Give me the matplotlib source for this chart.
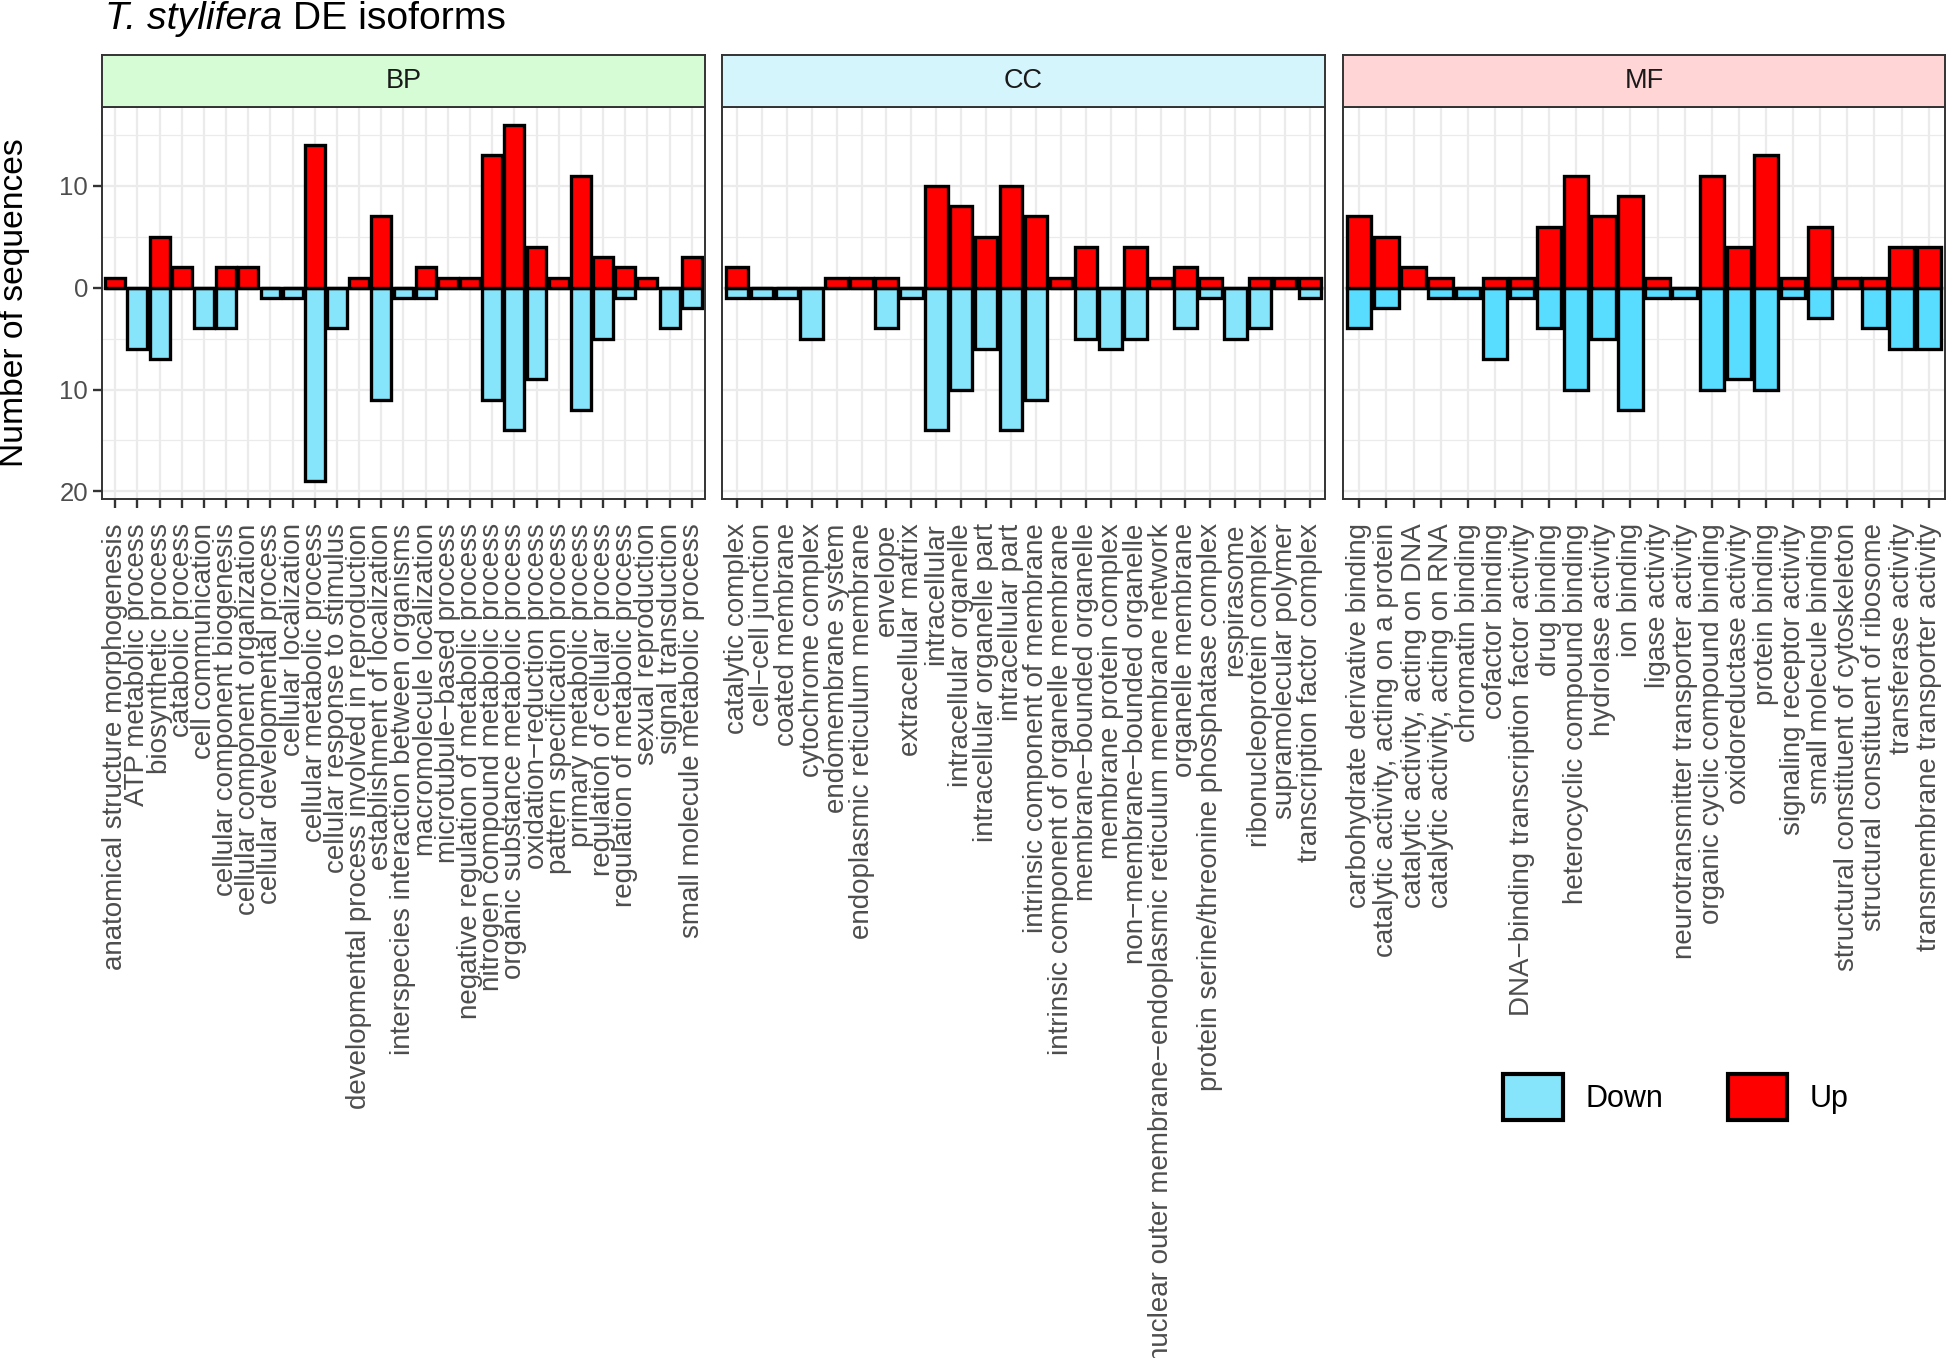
import matplotlib
matplotlib.use("Agg")
import matplotlib.pyplot as plt
from matplotlib.patches import Patch
import numpy as np

plt.rcParams['font.family'] = ['Liberation Sans', 'DejaVu Sans']

# ---------------- data ----------------
bp_categories = ["anatomical structure morphogenesis", "ATP metabolic process", "biosynthetic process",
                 "catabolic process", "cell communication", "cellular component biogenesis",
                 "cellular component organization", "cellular developmental process", "cellular localization",
                 "cellular metabolic process", "cellular response to stimulus",
                 "developmental process involved in reproduction", "establishment of localization",
                 "interspecies interaction between organisms", "macromolecule localization",
                 "microtubule\u2212based process", "negative regulation of metabolic process",
                 "nitrogen compound metabolic process", "organic substance metabolic process",
                 "oxidation\u2212reduction process", "pattern specification process", "primary metabolic process",
                 "regulation of cellular process", "regulation of metabolic process", "sexual reproduction",
                 "signal transduction", "small molecule metabolic process"]
bp_up = [1, 0, 5, 2, 0, 2, 2, 0, 0, 14, 0, 1, 7, 0, 2, 1, 1, 13, 16, 4, 1, 11, 3, 2, 1, 0, 3]
bp_down = [0, 6, 7, 0, 4, 4, 0, 1, 1, 19, 4, 0, 11, 1, 1, 0, 0, 11, 14, 9, 0, 12, 5, 1, 0, 4, 2]

cc_categories = ["catalytic complex", "cell\u2212cell junction", "coated membrane", "cytochrome complex",
                 "endomembrane system", "endoplasmic reticulum membrane", "envelope", "extracellular matrix",
                 "intracellular", "intracellular organelle", "intracellular organelle part", "intracellular part",
                 "intrinsic component of membrane", "intrinsic component of organelle membrane",
                 "membrane\u2212bounded organelle", "membrane protein complex",
                 "non\u2212membrane\u2212bounded organelle",
                 "nuclear outer membrane\u2212endoplasmic reticulum membrane network", "organelle membrane",
                 "protein serine/threonine phosphatase complex", "respirasome", "ribonucleoprotein complex",
                 "supramolecular polymer", "transcription factor complex"]
cc_up = [2, 0, 0, 0, 1, 1, 1, 0, 10, 8, 5, 10, 7, 1, 4, 0, 4, 1, 2, 1, 0, 1, 1, 1]
cc_down = [1, 1, 1, 5, 0, 0, 4, 1, 14, 10, 6, 14, 11, 0, 5, 6, 5, 0, 4, 1, 5, 4, 0, 1]

mf_categories = ["carbohydrate derivative binding", "catalytic activity, acting on a protein",
                 "catalytic activity, acting on DNA", "catalytic activity, acting on RNA", "chromatin binding",
                 "cofactor binding", "DNA\u2212binding transcription factor activity", "drug binding",
                 "heterocyclic compound binding", "hydrolase activity", "ion binding", "ligase activity",
                 "neurotransmitter transporter activity", "organic cyclic compound binding",
                 "oxidoreductase activity", "protein binding", "signaling receptor activity",
                 "small molecule binding", "structural constituent of cytoskeleton",
                 "structural constituent of ribosome", "transferase activity",
                 "transmembrane transporter activity"]
mf_up = [7, 5, 2, 1, 0, 1, 1, 6, 11, 7, 9, 1, 0, 11, 4, 13, 1, 6, 1, 1, 4, 4]
mf_down = [4, 2, 0, 1, 1, 7, 1, 4, 10, 5, 12, 1, 1, 10, 9, 10, 1, 3, 0, 4, 6, 6]

panel_names = ["BP", "CC", "MF"]
y_ticks = [-20, -10, 0, 10]
y_tick_labels = ["20", "10", "0", "10"]

# ---------------- style ----------------
W, H = 1946, 1358
fig = plt.figure(figsize=(W / 100, H / 100), dpi=100)

UP_COLOR = "#FF0000"
DOWN_COLORS = {"BP": "#86E5FA", "CC": "#86E5FA", "MF": "#58DCFF"}
STRIP_COLORS = {"BP": "#D5FCD5", "CC": "#D5F5FC", "MF": "#FFD5D5"}
BORDER = "#333333"
GRID = "#EBEBEB"

panels_px = {"BP": (102, 705), "CC": (722, 1325), "MF": (1343, 1945)}
py0, py1 = 107, 499
sy0 = 55

data = {"BP": (bp_categories, bp_up, bp_down),
        "CC": (cc_categories, cc_up, cc_down),
        "MF": (mf_categories, mf_up, mf_down)}

ylim = (-20.75, 17.75)

for name in panel_names:
    cats, up, down = data[name]
    x0, x1 = panels_px[name]
    ax = fig.add_axes([x0 / W, 1 - py1 / H, (x1 - x0) / W, (py1 - py0) / H])
    n = len(cats)
    x = np.arange(n)
    for yv in [-15, -5, 5, 15]:
        ax.axhline(yv, color=GRID, lw=0.9, zorder=0)
    for yv in y_ticks:
        ax.axhline(yv, color=GRID, lw=1.6, zorder=0)
    for xv in x:
        ax.axvline(xv, color=GRID, lw=1.6, zorder=0)
    down_vals = -np.array(down, dtype=float)
    up_vals = np.array(up, dtype=float)
    ax.bar(x, down_vals, width=0.9, color=DOWN_COLORS[name], edgecolor="black", linewidth=2.4, zorder=2)
    ax.bar(x, up_vals, width=0.9, color=UP_COLOR, edgecolor="black", linewidth=2.4, zorder=3)
    ax.set_xlim(-0.6, n - 0.4)
    ax.set_ylim(*ylim)
    ax.set_xticks(x)
    ax.set_xticklabels(cats, rotation=90, ha="center", va="top", fontsize=20, color="#4D4D4D")
    ax.tick_params(axis="x", length=6.5, width=1.7, color=BORDER, pad=11)
    if name == "BP":
        ax.set_yticks(y_ticks)
        ax.set_yticklabels(y_tick_labels, fontsize=18.6, color="#4D4D4D")
        ax.tick_params(axis="y", length=6.5, width=1.7, color=BORDER, pad=3.5)
    else:
        ax.set_yticks([])
    for sp in ax.spines.values():
        sp.set_color(BORDER)
        sp.set_linewidth(1.4)
        sp.set_zorder(5)
    sax = fig.add_axes([x0 / W, 1 - py0 / H, (x1 - x0) / W, (py0 - sy0) / H])
    sax.set_facecolor(STRIP_COLORS[name])
    sax.set_xticks([])
    sax.set_yticks([])
    for sp in sax.spines.values():
        sp.set_color(BORDER)
        sp.set_linewidth(1.4)
    sax.text(0.5, 0.5, name, ha="center", va="center", fontsize=19.5, color="#1A1A1A",
             transform=sax.transAxes)

# title (italic species name + regular text) and axis label
renderer = fig.canvas.get_renderer()
t1 = fig.text(105 / W, 1 - 29 / H, "T. stylifera", fontsize=28.2, style="italic",
              ha="left", va="baseline", color="black")
bb = t1.get_window_extent(renderer=renderer)
fig.text(bb.x1 / W, 1 - 29 / H, " DE isoforms", fontsize=28.2,
         ha="left", va="baseline", color="black")
fig.text(15 / W, 1 - 303 / H, "Number of sequences", rotation=90, fontsize=24.2,
         ha="center", va="center", color="black")

# legend
handles = [Patch(facecolor=DOWN_COLORS["BP"], edgecolor="black", linewidth=3, label="Down"),
           Patch(facecolor=UP_COLOR, edgecolor="black", linewidth=3, label="Up")]
fig.legend(handles=handles, loc="center", bbox_to_anchor=(1676 / W, 1 - 1097 / H), ncol=2,
           frameon=False, fontsize=22, handlelength=1.95, handleheight=1.95,
           handletextpad=0.75, columnspacing=2.1)

fig.savefig("out.png", dpi=100)
